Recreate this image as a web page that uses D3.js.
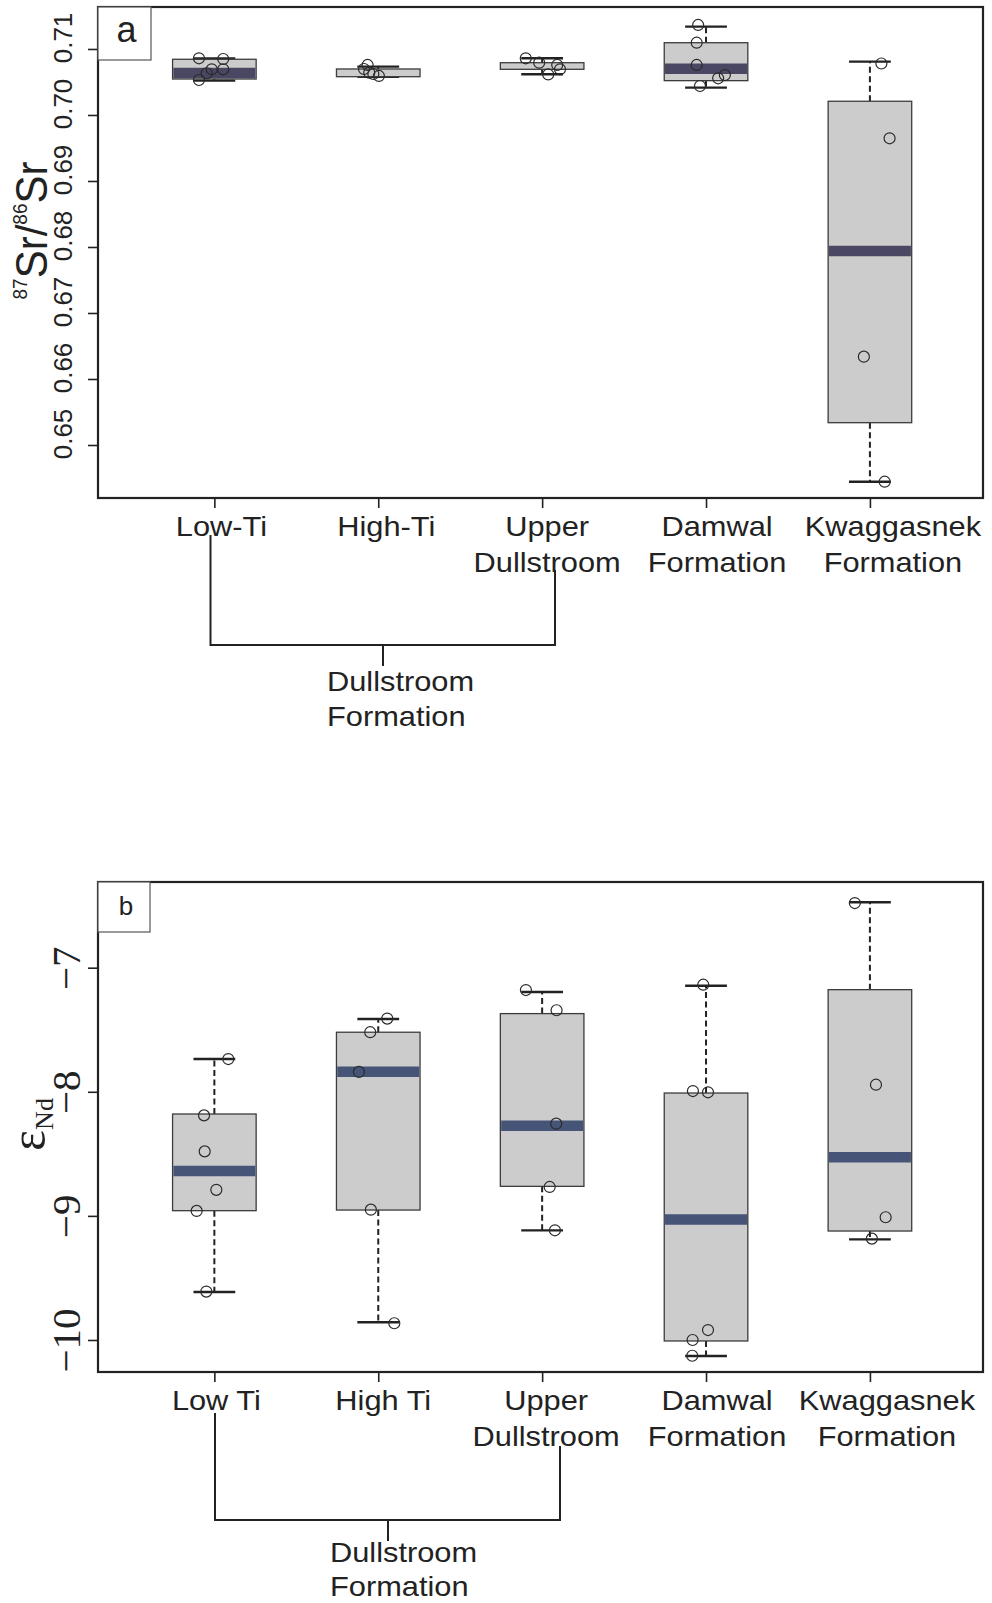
<!DOCTYPE html>
<html>
<head>
<meta charset="utf-8">
<script src="https://cdn.jsdelivr.net/npm/d3@7"></script>
<style>
  body { margin: 0; background: #fff; }
  svg { display: block; }
</style>
</head>
<body>
<svg id="fig" width="992" height="1603"></svg>
<script>
// ---- Data -----------------------------------------------------------------
// Category labels (panel a uses hyphenated names, panel b plain)
const labelsSr = [["Low-Ti"], ["High-Ti"], ["Upper", "Dullstroom"], ["Damwal", "Formation"], ["Kwaggasnek", "Formation"]];
const labelsNd = [["Low Ti"], ["High Ti"], ["Upper", "Dullstroom"], ["Damwal", "Formation"], ["Kwaggasnek", "Formation"]];
const groupLabel = ["Dullstroom", "Formation"];

// 87Sr/86Sr box statistics per group
const srWhiskerLo = [0.70520, 0.70580, 0.70617, 0.70414, 0.64444];
const srQ1        = [0.70545, 0.70580, 0.70692, 0.70520, 0.65338];
const srMedian    = [0.70636, null,    null,    0.70702, 0.67939];
const srQ3        = [0.70844, 0.70697, 0.70792, 0.71095, 0.70208];
const srWhiskerHi = [0.70856, 0.70732, 0.70859, 0.71338, 0.70808];

// 87Sr/86Sr individual samples and their horizontal jitter (category units)
const srPoints = [
  [0.70859, 0.70848, 0.70692, 0.70632, 0.70530, 0.70692],
  [0.70758, 0.70697, 0.70641, 0.70621, 0.70591],
  [0.70859, 0.70792, 0.70758, 0.70692, 0.70614],
  [0.71364, 0.71095, 0.70758, 0.70556, 0.70606, 0.70439],
  [0.70780, 0.69647, 0.66338, 0.64444]
];
const srJitter = [
  [-0.094, 0.054, -0.016, -0.047, -0.094, 0.054],
  [-0.065, -0.087, -0.055, -0.030, 0.004],
  [-0.100, -0.018, 0.092, 0.109, 0.037],
  [-0.048, -0.057, -0.057, 0.074, 0.115, -0.037],
  [0.070, 0.120, -0.037, 0.090]
];
const srTicks = [0.65, 0.66, 0.67, 0.68, 0.69, 0.70, 0.71];

// eNd box statistics per group
const ndWhiskerLo = [-9.613, -9.857, -9.117, -10.129, -9.189];
const ndQ1        = [-8.958, -8.953, -8.762, -10.008, -9.122];
const ndMedian    = [-8.638, -7.838, -8.273, -9.030, -8.528];
const ndQ3        = [-8.179, -7.520, -7.370, -8.010, -7.177];
const ndWhiskerHi = [-7.736, -7.413, -7.196, -7.145, -6.473];

// eNd individual samples and their horizontal jitter (category units)
const ndPoints = [
  [-7.736, -8.190, -8.480, -8.790, -8.960, -9.610],
  [-7.410, -7.520, -7.840, -8.950, -9.865],
  [-7.180, -7.343, -8.257, -8.767, -9.116],
  [-7.137, -7.994, -8.004, -9.920, -10.000, -10.127],
  [-6.479, -7.943, -9.011, -9.183]
];
const ndJitter = [
  [0.085, -0.063, -0.059, 0.012, -0.108, -0.049],
  [0.055, -0.049, -0.118, -0.045, 0.098],
  [-0.099, 0.088, 0.086, 0.046, 0.078],
  [-0.017, -0.080, 0.012, 0.012, -0.082, -0.084],
  [-0.092, 0.037, 0.096, 0.012]
];
const ndTicks = [-10, -9, -8, -7];

// ---- Layout & style -------------------------------------------------------
const svg = d3.select("#fig");
const sans = "'Liberation Sans', Arial, Helvetica, sans-serif";
const serif = "'Liberation Serif', 'Times New Roman', Times, serif";
const ink = "#222";
const LEFT = 98, RIGHT = 983;
const x = d3.scaleLinear().domain([0.29, 5.69]).range([LEFT, RIGHT]);
const unit = x(1) - x(0);
const boxW = 0.51 * unit;
const capW = boxW / 2;
const stretch = 1.08;  // labels are set slightly wide

function drawPanel(p) {
  const y = d3.scaleLinear().domain(p.yDomain).range([p.bottom, p.top]);
  const g = svg.append("g");
  const cats = d3.range(p.q1.length);

  // y axis ticks and rotated labels
  const ya = g.append("g")
    .attr("transform", `translate(${LEFT},0)`)
    .call(d3.axisLeft(y).tickValues(p.ticks).tickSize(10).tickFormat(p.fmt));
  ya.select(".domain").remove();
  ya.selectAll(".tick line").attr("stroke", ink).attr("stroke-width", 1.6);
  ya.selectAll(".tick text")
    .attr("x", null).attr("dy", null)
    .attr("transform", `translate(${p.tickLabelX},${p.tickLabelShift}) rotate(-90)`)
    .attr("text-anchor", "middle")
    .attr("fill", ink)
    .style("font-family", p.tickFont)
    .style("font-size", p.tickSize + "px");

  // x axis ticks (labels set separately)
  const xa = g.append("g")
    .attr("transform", `translate(0,${p.bottom})`)
    .call(d3.axisBottom(x).tickValues(cats.map(i => i + 1)).tickSize(10).tickFormat(""));
  xa.select(".domain").remove();
  xa.selectAll(".tick line").attr("stroke", ink).attr("stroke-width", 1.6);

  // boxes
  const bx = g.selectAll("g.box").data(cats).join("g").attr("class", "box");
  // dashed whiskers
  bx.append("line")
    .attr("x1", i => x(i + 1)).attr("x2", i => x(i + 1))
    .attr("y1", i => y(p.q3[i])).attr("y2", i => y(p.hi[i]))
    .attr("stroke", ink).attr("stroke-width", 2).attr("stroke-dasharray", "6,3.5");
  bx.append("line")
    .attr("x1", i => x(i + 1)).attr("x2", i => x(i + 1))
    .attr("y1", i => y(p.q1[i])).attr("y2", i => y(p.lo[i]))
    .attr("stroke", ink).attr("stroke-width", 2).attr("stroke-dasharray", "6,3.5");
  // whisker caps
  [p.hi, p.lo].forEach(arr => {
    bx.append("line")
      .attr("x1", i => x(i + 1) - capW / 2).attr("x2", i => x(i + 1) + capW / 2)
      .attr("y1", i => y(arr[i])).attr("y2", i => y(arr[i]))
      .attr("stroke", ink).attr("stroke-width", 2.4);
  });
  // box body
  bx.append("rect")
    .attr("x", i => x(i + 1) - boxW / 2).attr("width", boxW)
    .attr("y", i => y(p.q3[i])).attr("height", i => y(p.q1[i]) - y(p.q3[i]))
    .attr("fill", "#cccccc").attr("stroke", "#3c3c3c").attr("stroke-width", 1.3);
  // median band
  bx.filter(i => p.med[i] != null).append("line")
    .attr("x1", i => x(i + 1) - boxW / 2 + 0.8).attr("x2", i => x(i + 1) + boxW / 2 - 0.8)
    .attr("y1", i => y(p.med[i])).attr("y2", i => y(p.med[i]))
    .attr("stroke", p.medColor).attr("stroke-width", 10.5);

  // individual samples
  cats.forEach(i => {
    g.selectAll(null).data(p.pts[i].map((v, k) => [v, p.jit[i][k]])).join("circle")
      .attr("cx", d => x(i + 1 + d[1]))
      .attr("cy", d => y(d[0]))
      .attr("r", 5.5)
      .attr("fill", "none").attr("stroke", "#2a2a2a").attr("stroke-width", 1.2);
  });

  // plot frame
  g.append("rect")
    .attr("x", LEFT).attr("y", p.top).attr("width", RIGHT - LEFT).attr("height", p.bottom - p.top)
    .attr("fill", "none").attr("stroke", ink).attr("stroke-width", 2.2);

  // panel letter box
  g.append("rect")
    .attr("x", LEFT).attr("y", p.top).attr("width", p.tagBox[0]).attr("height", p.tagBox[1])
    .attr("fill", "#fff").attr("stroke", "#555").attr("stroke-width", 1.2);
  g.append("text")
    .attr("x", LEFT + p.tagBox[0] / 2 + 2).attr("y", p.top + p.tagBaseline)
    .attr("text-anchor", "middle").attr("fill", ink)
    .style("font-family", sans).style("font-size", p.tagSize + "px")
    .text(p.tag);

  // category labels
  cats.forEach(i => {
    p.labels[i].forEach((line, k) => {
      g.append("text")
        .attr("transform", `translate(${x(i + 1) + p.nudge[i]},${p.labelBase + k * 35.5}) scale(${stretch},1)`)
        .attr("text-anchor", "middle").attr("fill", ink)
        .style("font-family", sans).style("font-size", "28.5px")
        .text(line);
    });
  });

  // bracket grouping the three Dullstroom units
  const b = p.bracket;
  g.append("path")
    .attr("d", `M${b.x1},${b.yLeft}V${b.yBar}H${b.x2}V${b.yRight}M${b.xMid},${b.yBar}V${b.yMidEnd}`)
    .attr("fill", "none").attr("stroke", ink).attr("stroke-width", 2);
  groupLabel.forEach((line, k) => {
    g.append("text")
      .attr("transform", `translate(${b.textX},${b.textBase + k * b.textGap}) scale(${stretch},1)`)
      .attr("fill", ink)
      .style("font-family", sans).style("font-size", "28.5px")
      .text(line);
  });

  // y-axis title
  p.title(g);
}

// Panel a: 87Sr/86Sr
drawPanel({
  top: 7, bottom: 498, yDomain: [0.64197, 0.71636],
  lo: srWhiskerLo, q1: srQ1, med: srMedian, q3: srQ3, hi: srWhiskerHi,
  pts: srPoints, jit: srJitter, medColor: "#4a4763",
  ticks: srTicks, fmt: d3.format(".2f"),
  tickLabelX: -26.5, tickLabelShift: -11.5, tickFont: sans, tickSize: 26,
  tag: "a", tagBox: [53, 53], tagBaseline: 35, tagSize: 36,
  labels: labelsSr, nudge: [7, 8, 5, 11, 23], labelBase: 536,
  bracket: { x1: 210.5, x2: 555, yLeft: 535, yRight: 570, yBar: 645, xMid: 383, yMidEnd: 666,
             textX: 327, textBase: 691, textGap: 35 },
  title: g => {
    const t = g.append("text")
      .attr("transform", "translate(46.7,230.5) scale(1.05,1) rotate(-90)")
      .attr("text-anchor", "middle").attr("fill", ink)
      .style("font-family", sans);
    t.append("tspan").attr("dy", -19).style("font-size", "19px").text("87");
    t.append("tspan").attr("dy", 19).style("font-size", "42px").text("Sr/");
    t.append("tspan").attr("dy", -19).style("font-size", "19px").text("86");
    t.append("tspan").attr("dy", 19).style("font-size", "42px").text("Sr");
  }
});

// Panel b: eNd
drawPanel({
  top: 882, bottom: 1372, yDomain: [-10.258, -6.3095],
  lo: ndWhiskerLo, q1: ndQ1, med: ndMedian, q3: ndQ3, hi: ndWhiskerHi,
  pts: ndPoints, jit: ndJitter, medColor: "#465577",
  ticks: ndTicks, fmt: d => "\u2212" + Math.abs(d),
  tickLabelX: -18, tickLabelShift: 0, tickFont: serif, tickSize: 41,
  tag: "b", tagBox: [52, 50], tagBaseline: 33, tagSize: 26,
  labels: labelsNd, nudge: [2, 5, 4, 11, 17], labelBase: 1410,
  bracket: { x1: 215, x2: 560, yLeft: 1413, yRight: 1446, yBar: 1520, xMid: 388, yMidEnd: 1541,
             textX: 330, textBase: 1562, textGap: 34 },
  title: g => {
    const t = g.append("text")
      .attr("transform", "translate(45,1124.5) rotate(-90)")
      .attr("text-anchor", "middle").attr("fill", ink)
      .style("font-family", serif);
    t.append("tspan").style("font-size", "50px").text("\u03b5");
    t.append("tspan").attr("dy", 8).style("font-size", "26px").text("Nd");
  }
});
</script>
</body>
</html>
